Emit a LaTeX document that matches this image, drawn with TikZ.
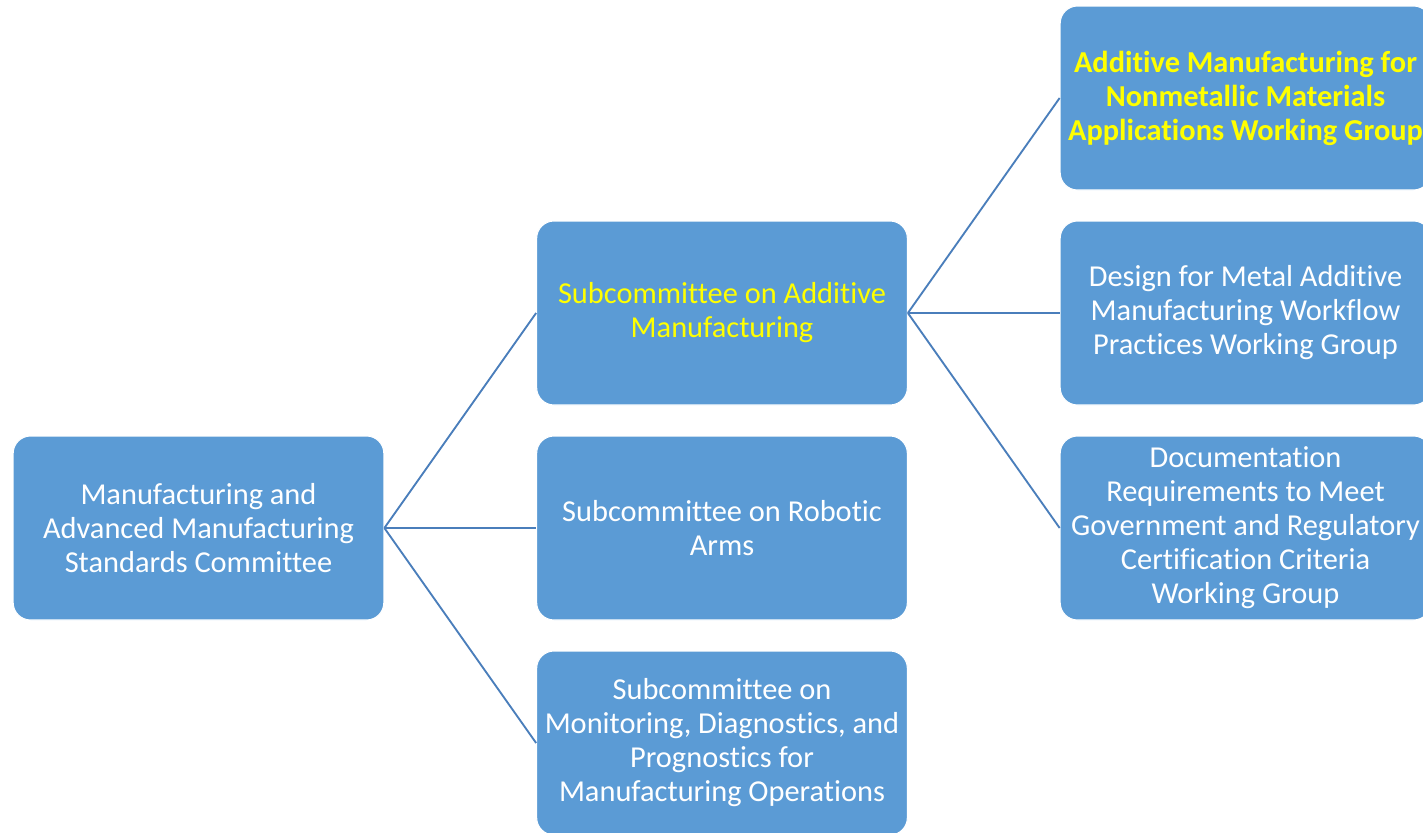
\documentclass[tikz,border=0pt]{standalone}
\usepackage{fontspec}
\setmainfont{Carlito}[Ligatures=NoCommon]
\definecolor{boxblue}{HTML}{5B9BD5}
\definecolor{lineblue}{HTML}{4A7EBB}
\definecolor{hiyellow}{HTML}{FFFF00}
\begin{document}
\begin{tikzpicture}[x=0.75pt, y=-0.75pt,
		unit/.style={rectangle, rounded corners=13pt, fill=boxblue, draw=white, line width=0.8pt,
			minimum width=278pt, minimum height=138pt, text=white, align=center,
			font=\fontsize{22.8}{25.5}\selectfont},
		hilite/.style={text=hiyellow},
		link/.style={draw=lineblue, line width=1.4pt}]
		\useasboundingbox (0,0) rectangle (1423,832);
		% Komitee
		\node[unit] (committee) at (198.5,528) {Manufacturing and\\Advanced Manufacturing\\Standards Committee};
		% Unterkomitees
		\node[unit, hilite] (additive) at (722,313) {Subcommittee on Additive\\Manufacturing};
		\node[unit] (robotic) at (722,528) {Subcommittee on Robotic\\Arms};
		\node[unit] (monitoring) at (722,743) {Subcommittee on\\Monitoring, Diagnostics, and\\Prognostics for\\Manufacturing Operations};
		% Arbeitsgruppen
		\node[unit, hilite, font=\fontsize{22.8}{25.5}\selectfont\bfseries] (nonmetal) at (1245.5,98) {Additive Manufacturing for\\Nonmetallic Materials\\Applications Working Group};
		\node[unit] (metal) at (1245.5,313) {Design for Metal Additive\\Manufacturing Workflow\\Practices Working Group};
		\node[unit] (documentation) at (1245.5,528) {Documentation\\Requirements to Meet\\Government and Regulatory\\Certification Criteria\\Working Group};
		% Verbindungen
		\draw[link] (committee.east) -- (additive.west);
		\draw[link] (committee.east) -- (robotic.west);
		\draw[link] (committee.east) -- (monitoring.west);
		\draw[link] (additive.east) -- (nonmetal.west);
		\draw[link] (additive.east) -- (metal.west);
		\draw[link] (additive.east) -- (documentation.west);
	\end{tikzpicture}
\end{document}
